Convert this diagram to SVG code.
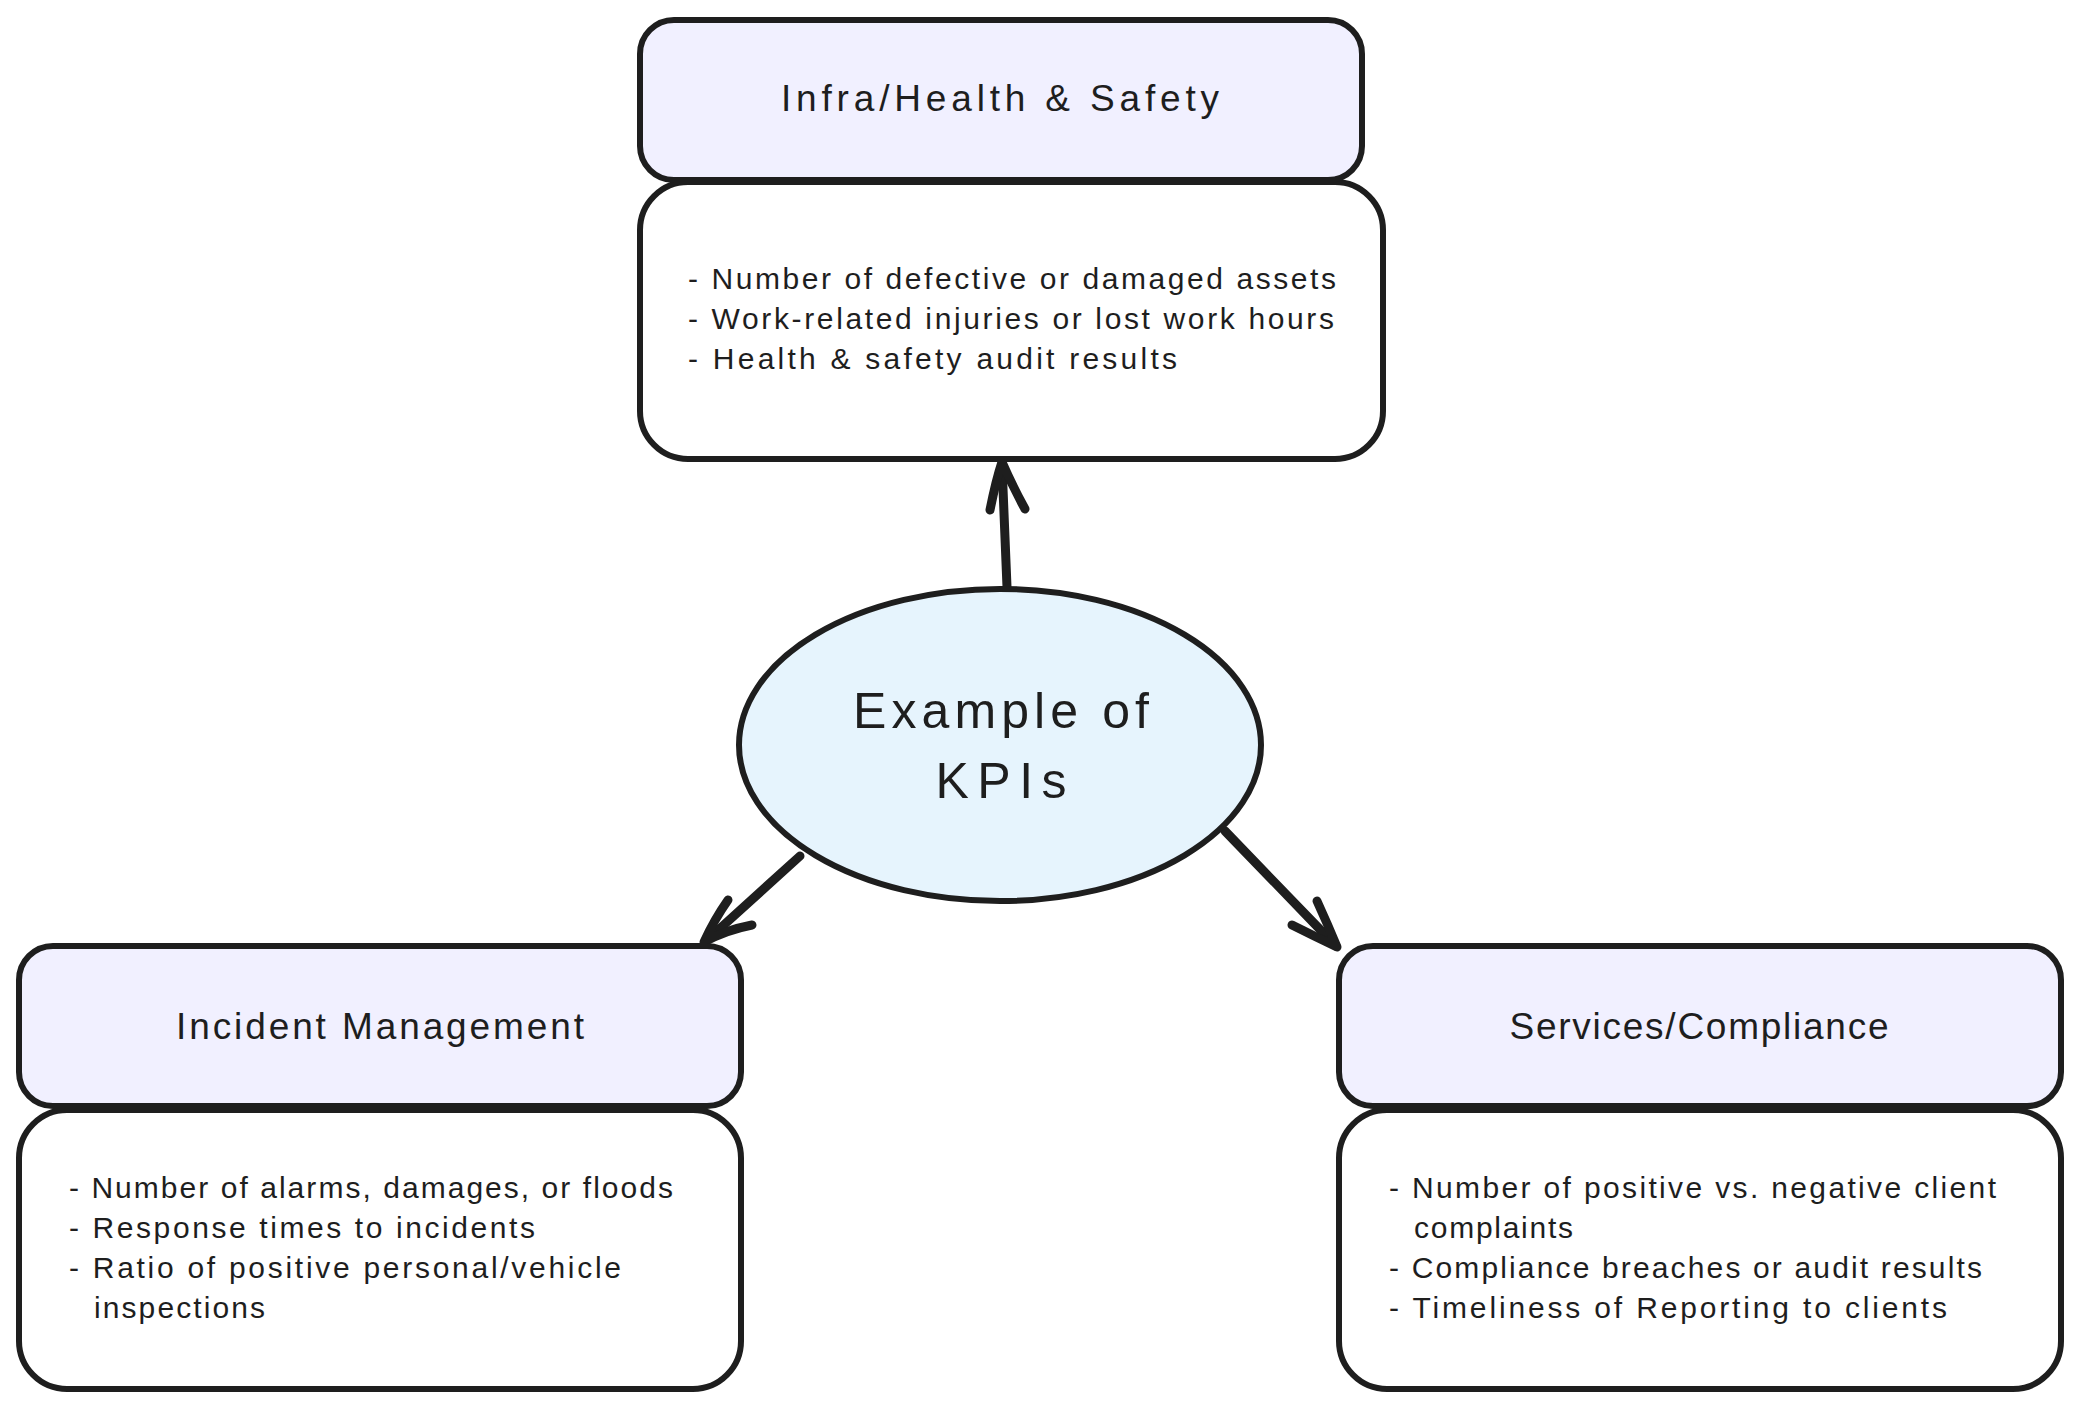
<svg xmlns="http://www.w3.org/2000/svg" width="2080" height="1407" viewBox="0 0 2080 1407">
<style>
.hdr{fill:#f1f0ff;stroke:#1e1e1e;stroke-width:6}
.body{fill:#ffffff;stroke:#1e1e1e;stroke-width:6}
.ell{fill:#e6f4fd;stroke:#1e1e1e;stroke-width:6}
text{font-family:"Liberation Sans",Arial,sans-serif;fill:#1e1e1e}
.ht{font-size:37px;text-anchor:middle}
.bt{font-size:30px}
.ct{font-size:50px;text-anchor:middle}
.conn{fill:none;stroke:#1e1e1e;stroke-width:9;stroke-linecap:round;stroke-linejoin:round}
</style>
<rect width="2080" height="1407" fill="#ffffff"/>
<g id="connectors">
<path class="conn" d="M1007 587 L1002 464"/>
<path class="conn" d="M990 510 Q996 480 1002 462 Q1012 485 1025 509"/>
<path class="conn" d="M800 856 L705 942"/>
<path class="conn" d="M728 900 Q714 920 704 942 Q726 930 752 925"/>
<path class="conn" d="M1225 831 L1336 946"/>
<path class="conn" d="M1317 901 Q1328 925 1337 947 Q1314 936 1292 925"/>
</g>
<g id="infra">
<rect class="body" x="640" y="182" width="743" height="277" rx="48"/>
<rect class="hdr" x="640" y="20" width="722" height="160" rx="34"/>
<text class="ht" x="1000" y="111" textLength="438">Infra/Health &amp; Safety</text>
<text class="bt" x="688" y="289" textLength="648">- Number of defective or damaged assets</text>
<text class="bt" x="688" y="329" textLength="646">- Work-related injuries or lost work hours</text>
<text class="bt" x="688" y="369" textLength="489">- Health &amp; safety audit results</text>
</g>
<g id="center">
<ellipse class="ell" cx="1000" cy="745" rx="261" ry="156"/>
<text class="ct" x="1001" y="728" textLength="296">Example of</text>
<text class="ct" x="1001" y="798" textLength="131">KPIs</text>
</g>
<g id="incident">
<rect class="body" x="19" y="1110" width="722" height="279" rx="48"/>
<rect class="hdr" x="19" y="946" width="722" height="160" rx="34"/>
<text class="ht" x="380" y="1039" textLength="408">Incident Management</text>
<text class="bt" x="69" y="1198" textLength="604">- Number of alarms, damages, or floods</text>
<text class="bt" x="69" y="1238" textLength="466">- Response times to incidents</text>
<text class="bt" x="69" y="1278" textLength="552">- Ratio of positive personal/vehicle</text>
<text class="bt" x="94" y="1318" textLength="171">inspections</text>
</g>
<g id="services">
<rect class="body" x="1339" y="1110" width="722" height="279" rx="48"/>
<rect class="hdr" x="1339" y="946" width="722" height="160" rx="34"/>
<text class="ht" x="1699" y="1039" textLength="379">Services/Compliance</text>
<text class="bt" x="1389" y="1198" textLength="607">- Number of positive vs. negative client</text>
<text class="bt" x="1414" y="1238" textLength="159">complaints</text>
<text class="bt" x="1389" y="1278" textLength="593">- Compliance breaches or audit results</text>
<text class="bt" x="1389" y="1318" textLength="558">- Timeliness of Reporting to clients</text>
</g>
</svg>
